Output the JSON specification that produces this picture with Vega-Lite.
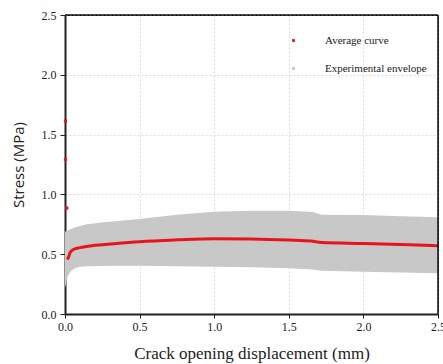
{
  "$schema": "https://vega.github.io/schema/vega-lite/v6.json",
  "width": 373,
  "height": 299,
  "autosize": {"type": "none"},
  "padding": {"left": 65, "top": 15, "right": 5, "bottom": 50},
  "background": "white",
  "config": {
    "view": {"stroke": "black", "strokeWidth": 1},
    "font": "Liberation Serif"
  },
  "datasets": {
    "envelope": [
      {"x": 0.0, "lo": 0.22, "hi": 0.69},
      {"x": 0.005, "lo": 0.24, "hi": 0.69},
      {"x": 0.01, "lo": 0.28, "hi": 0.69},
      {"x": 0.02, "lo": 0.32, "hi": 0.70},
      {"x": 0.04, "lo": 0.36, "hi": 0.71},
      {"x": 0.07, "lo": 0.385, "hi": 0.725},
      {"x": 0.1, "lo": 0.395, "hi": 0.735},
      {"x": 0.15, "lo": 0.40, "hi": 0.75},
      {"x": 0.23, "lo": 0.402, "hi": 0.762},
      {"x": 0.35, "lo": 0.404, "hi": 0.777},
      {"x": 0.5, "lo": 0.404, "hi": 0.795},
      {"x": 0.75, "lo": 0.40, "hi": 0.83},
      {"x": 1.0, "lo": 0.396, "hi": 0.855},
      {"x": 1.25, "lo": 0.39, "hi": 0.864},
      {"x": 1.5, "lo": 0.382, "hi": 0.864},
      {"x": 1.66, "lo": 0.372, "hi": 0.852},
      {"x": 1.72, "lo": 0.362, "hi": 0.83},
      {"x": 2.0, "lo": 0.354, "hi": 0.828},
      {"x": 2.25, "lo": 0.347, "hi": 0.818},
      {"x": 2.5, "lo": 0.34, "hi": 0.808}
    ],
    "average": [
      {"x": 0.015, "y": 0.455},
      {"x": 0.025, "y": 0.48},
      {"x": 0.035, "y": 0.515},
      {"x": 0.05, "y": 0.535},
      {"x": 0.1, "y": 0.555},
      {"x": 0.2, "y": 0.574},
      {"x": 0.3, "y": 0.585},
      {"x": 0.5, "y": 0.605},
      {"x": 0.75, "y": 0.62},
      {"x": 1.0, "y": 0.63},
      {"x": 1.25, "y": 0.628},
      {"x": 1.5, "y": 0.619},
      {"x": 1.65, "y": 0.61},
      {"x": 1.72, "y": 0.598},
      {"x": 2.0, "y": 0.59},
      {"x": 2.25, "y": 0.581},
      {"x": 2.5, "y": 0.571}
    ],
    "peaks": [
      {"x": 0.003, "y": 1.614, "series": "Average curve"},
      {"x": 0.003, "y": 1.293, "series": "Average curve"},
      {"x": 0.012, "y": 0.886, "series": "Average curve"}
    ],
    "frame": [{"edge": 2.5}]
  },
  "layer": [
    {
      "data": {"name": "envelope"},
      "mark": {"type": "area", "color": "#c8c8c8", "opacity": 1},
      "encoding": {
        "x": {
          "field": "x", "type": "quantitative",
          "scale": {"domain": [0, 2.5], "nice": false, "zero": false},
          "axis": {
            "title": "Crack opening displacement (mm)",
            "titleFont": "Liberation Serif", "titleFontSize": 17, "titleFontWeight": "normal", "titleColor": "#222",
            "titlePadding": 13,
            "values": [0, 0.25, 0.5, 0.75, 1, 1.25, 1.5, 1.75, 2, 2.25, 2.5],
            "labelExpr": "(round(datum.value*100) % 50 == 0) ? format(datum.value, '.1f') : ''",
            "labelFont": "Liberation Serif", "labelFontSize": 12, "labelColor": "#222",
            "labelPadding": 3, "labelFlush": false, "labelOverlap": false,
            "tickSize": 4, "tickColor": "#222", "tickWidth": 1,
            "domainColor": "#222", "domainWidth": 2,
            "grid": true, "gridColor": "#dcdcdc", "gridDash": [2, 2], "gridWidth": 1
          }
        },
        "y": {
          "field": "lo", "type": "quantitative",
          "scale": {"domain": [0, 2.5], "nice": false},
          "axis": {
            "title": "Stress (MPa)",
            "titleFont": "Open Sans", "titleFontSize": 15, "titleFontWeight": "normal", "titleColor": "#222",
            "titlePadding": 15,
            "values": [0, 0.25, 0.5, 0.75, 1, 1.25, 1.5, 1.75, 2, 2.25, 2.5],
            "labelExpr": "(round(datum.value*100) % 50 == 0) ? format(datum.value, '.1f') : ''",
            "labelFont": "Liberation Serif", "labelFontSize": 12, "labelColor": "#222",
            "labelPadding": 4, "labelFlush": false, "labelOverlap": false,
            "tickSize": 5, "tickColor": "#222", "tickWidth": 1,
            "domainColor": "#222", "domainWidth": 2,
            "grid": true, "gridColor": "#dcdcdc", "gridDash": [2, 2], "gridWidth": 1
          }
        },
        "y2": {"field": "hi"}
      }
    },
    {
      "data": {"name": "average"},
      "mark": {"type": "line", "color": "#e8141b", "strokeWidth": 3, "interpolate": "monotone"},
      "encoding": {
        "x": {"field": "x", "type": "quantitative"},
        "y": {"field": "y", "type": "quantitative"}
      }
    },
    {
      "data": {"name": "frame"},
      "mark": {"type": "rule", "color": "#111", "strokeWidth": 1.5},
      "encoding": {"y": {"field": "edge", "type": "quantitative"}}
    },
    {
      "data": {"name": "frame"},
      "mark": {"type": "rule", "color": "#111", "strokeWidth": 1.5},
      "encoding": {"x": {"field": "edge", "type": "quantitative"}}
    },
    {
      "data": {"name": "peaks"},
      "mark": {"type": "square", "filled": true, "size": 10, "opacity": 1},
      "encoding": {
        "x": {"field": "x", "type": "quantitative"},
        "y": {"field": "y", "type": "quantitative"},
        "color": {
          "field": "series", "type": "nominal",
          "scale": {"domain": ["Average curve", "Experimental envelope"], "range": ["#e8141b", "#c8c8c8"]},
          "legend": {
            "title": null, "orient": "none", "legendX": 223, "legendY": 20,
            "symbolType": "square", "symbolSize": 8, "symbolStrokeWidth": 0,
            "labelFont": "Liberation Serif", "labelFontSize": 11, "labelColor": "#222",
            "labelOffset": 26, "rowPadding": 16
          }
        }
      }
    }
  ]
}
